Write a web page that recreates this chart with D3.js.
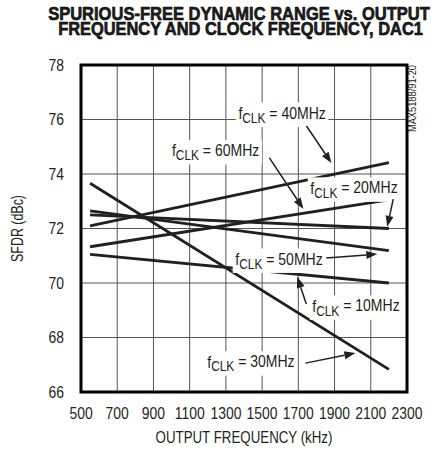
<!DOCTYPE html>
<html>
<head>
<meta charset="utf-8">
<script src="https://cdn.jsdelivr.net/npm/d3@7"></script>
<style>
  body { margin: 0; background: #fff; }
  svg { display: block; }
  text { font-family: "Liberation Sans", Arial, Helvetica, sans-serif; fill: #231f20; }
</style>
</head>
<body>
<svg id="chart"></svg>
<script>
// data
const outFreq = [550, 2200];              // kHz, ends of each curve
const sfdr10 = [71.05, 70.0];
const sfdr20 = [72.5, 72.0];
const sfdr30 = [73.66, 66.83];
const sfdr40 = [72.1, 74.42];
const sfdr50 = [72.65, 71.19];
const sfdr60 = [71.33, 73.05];
const clockLabels = ["10MHz", "20MHz", "30MHz", "40MHz", "50MHz", "60MHz"];
const xTicks = [500, 700, 900, 1100, 1300, 1500, 1700, 1900, 2100, 2300];
const yTicks = [66, 68, 70, 72, 74, 76, 78];

// label anchor (left/middle of text) and arrow from -> to, in kHz / dBc
const notes = [
  {clk: "40MHz", f: 1369, db: 76.24, a: [1745, 75.76, 1883, 74.40]},
  {clk: "60MHz", f: 1002, db: 74.86, a: [1540, 74.59, 1728, 72.72]},
  {clk: "20MHz", f: 1766, db: 73.49, a: [2224, 73.08, 2191, 72.06]},
  {clk: "50MHz", f: 1352, db: 70.88, a: [1854, 70.92, 2136, 71.06]},
  {clk: "10MHz", f: 1777, db: 69.16, a: [1744, 69.23, 1694, 70.23]},
  {clk: "30MHz", f: 1197, db: 67.11, a: [1739, 67.06, 2015, 67.43]}
];

const width = 440, height = 453;
const margin = {top: 65, right: 33, bottom: 61, left: 81};
const squeeze = 0.82;   // condensed look

const svg = d3.select("#chart").attr("width", width).attr("height", height);

const x = d3.scaleLinear().domain([500, 2300]).range([margin.left, width - margin.right]);
const y = d3.scaleLinear().domain([66, 78]).range([height - margin.bottom, margin.top]);

// text squeezed horizontally around its anchor point
function narrow(parent, px, py, sx, rot) {
  const g = parent.append("g")
    .attr("transform", `translate(${px},${py})` + (rot ? ` rotate(${rot})` : "") + ` scale(${sx},1)`);
  return g.append("text");
}
function fitTo(t, w) {
  const len = t.node().getComputedTextLength();
  t.node().parentNode.setAttribute("transform",
    t.node().parentNode.getAttribute("transform").replace(/scale\([^)]*\)/, `scale(${w / len},1)`));
}

// title
const t1 = narrow(svg, 239, 19.5, 1).attr("text-anchor", "middle")
  .style("font-size", "18px").style("font-weight", "bold")
  .attr("stroke", "#000").attr("stroke-width", 0.6)
  .text("SPURIOUS-FREE DYNAMIC RANGE vs. OUTPUT");
fitTo(t1, 382);
const t2 = narrow(svg, 240.5, 35, 1).attr("text-anchor", "middle")
  .style("font-size", "18px").style("font-weight", "bold")
  .attr("stroke", "#000").attr("stroke-width", 0.6)
  .text("FREQUENCY AND CLOCK FREQUENCY, DAC1");
fitTo(t2, 365);

// grid
const grid = svg.append("g").attr("stroke", "#555").attr("stroke-width", 1);
grid.selectAll(".vg").data(xTicks.slice(1, -1)).join("line")
  .attr("x1", d => x(d)).attr("x2", d => x(d))
  .attr("y1", y(78)).attr("y2", y(66));
grid.selectAll(".hg").data(yTicks.slice(1, -1)).join("line")
  .attr("x1", x(500)).attr("x2", x(2300))
  .attr("y1", d => y(d)).attr("y2", d => y(d));

// tick labels
const yl = svg.append("g");
yTicks.forEach(d => {
  narrow(yl, x(500) - 17, y(d), squeeze).attr("dy", "0.35em")
    .attr("text-anchor", "end").style("font-size", "17px").text(d);
});
const xl = svg.append("g");
xTicks.forEach(d => {
  narrow(xl, x(d), y(66) + 21, squeeze).attr("dy", "0.35em")
    .attr("text-anchor", "middle").style("font-size", "17px").text(d);
});

const xt = narrow(svg, (x(500) + x(2300)) / 2, 443, squeeze)
  .attr("text-anchor", "middle").style("font-size", "16px").text("OUTPUT FREQUENCY (kHz)");
fitTo(xt, 177);
const ytl = narrow(svg, 23, (y(66) + y(78)) / 2, squeeze, -90)
  .attr("text-anchor", "middle").style("font-size", "16px").text("SFDR (dBc)");
fitTo(ytl, 67);
const wm = narrow(svg, 416, y(78), squeeze, -90)
  .attr("text-anchor", "end").style("font-size", "10px").text("MAX5188/91-20");
fitTo(wm, 67);

// curves
const series = [sfdr10, sfdr20, sfdr30, sfdr40, sfdr50, sfdr60];
const line = d3.line().x((d, i) => x(outFreq[i])).y(d => y(d));
svg.append("g").selectAll("path").data(series).join("path")
  .attr("d", line).attr("fill", "none").attr("stroke", "#231f20")
  .attr("stroke-width", 2.8).attr("stroke-linecap", "butt");

// annotations
const ann = svg.append("g");
notes.forEach(n => {
  const t = narrow(ann, x(n.f), y(n.db), 0.85).attr("dy", "0.35em")
    .style("font-size", "16.5px");
  t.append("tspan").text("f");
  t.append("tspan").attr("dy", "0.28em").style("font-size", "14px").text("CLK");
  t.append("tspan").attr("dy", "-0.25em").text(" = " + n.clk);
  const b = t.node().getBBox();
  d3.select(t.node().parentNode).insert("rect", "text")
    .attr("x", b.x - 3).attr("y", b.y - 1)
    .attr("width", b.width + 6).attr("height", b.height + 2).attr("fill", "#fff");

  const [f0, d0, f1, d1] = n.a;
  const x0 = x(f0), y0 = y(d0), x1 = x(f1), y1 = y(d1);
  const ang = Math.atan2(y1 - y0, x1 - x0);
  const hl = 11, hw = 4;
  const bx = x1 - hl * Math.cos(ang), by = y1 - hl * Math.sin(ang);
  ann.append("line").attr("x1", x0).attr("y1", y0).attr("x2", bx).attr("y2", by)
    .attr("stroke", "#231f20").attr("stroke-width", 1.5);
  ann.append("path")
    .attr("d", `M${x1},${y1}L${bx - hw * Math.sin(ang)},${by + hw * Math.cos(ang)}L${bx + hw * Math.sin(ang)},${by - hw * Math.cos(ang)}Z`)
    .attr("fill", "#231f20");
});

// frame
svg.append("rect").attr("x", x(500)).attr("y", y(78))
  .attr("width", x(2300) - x(500)).attr("height", y(66) - y(78))
  .attr("fill", "none").attr("stroke", "#000").attr("stroke-width", 3);
</script>
</body>
</html>
